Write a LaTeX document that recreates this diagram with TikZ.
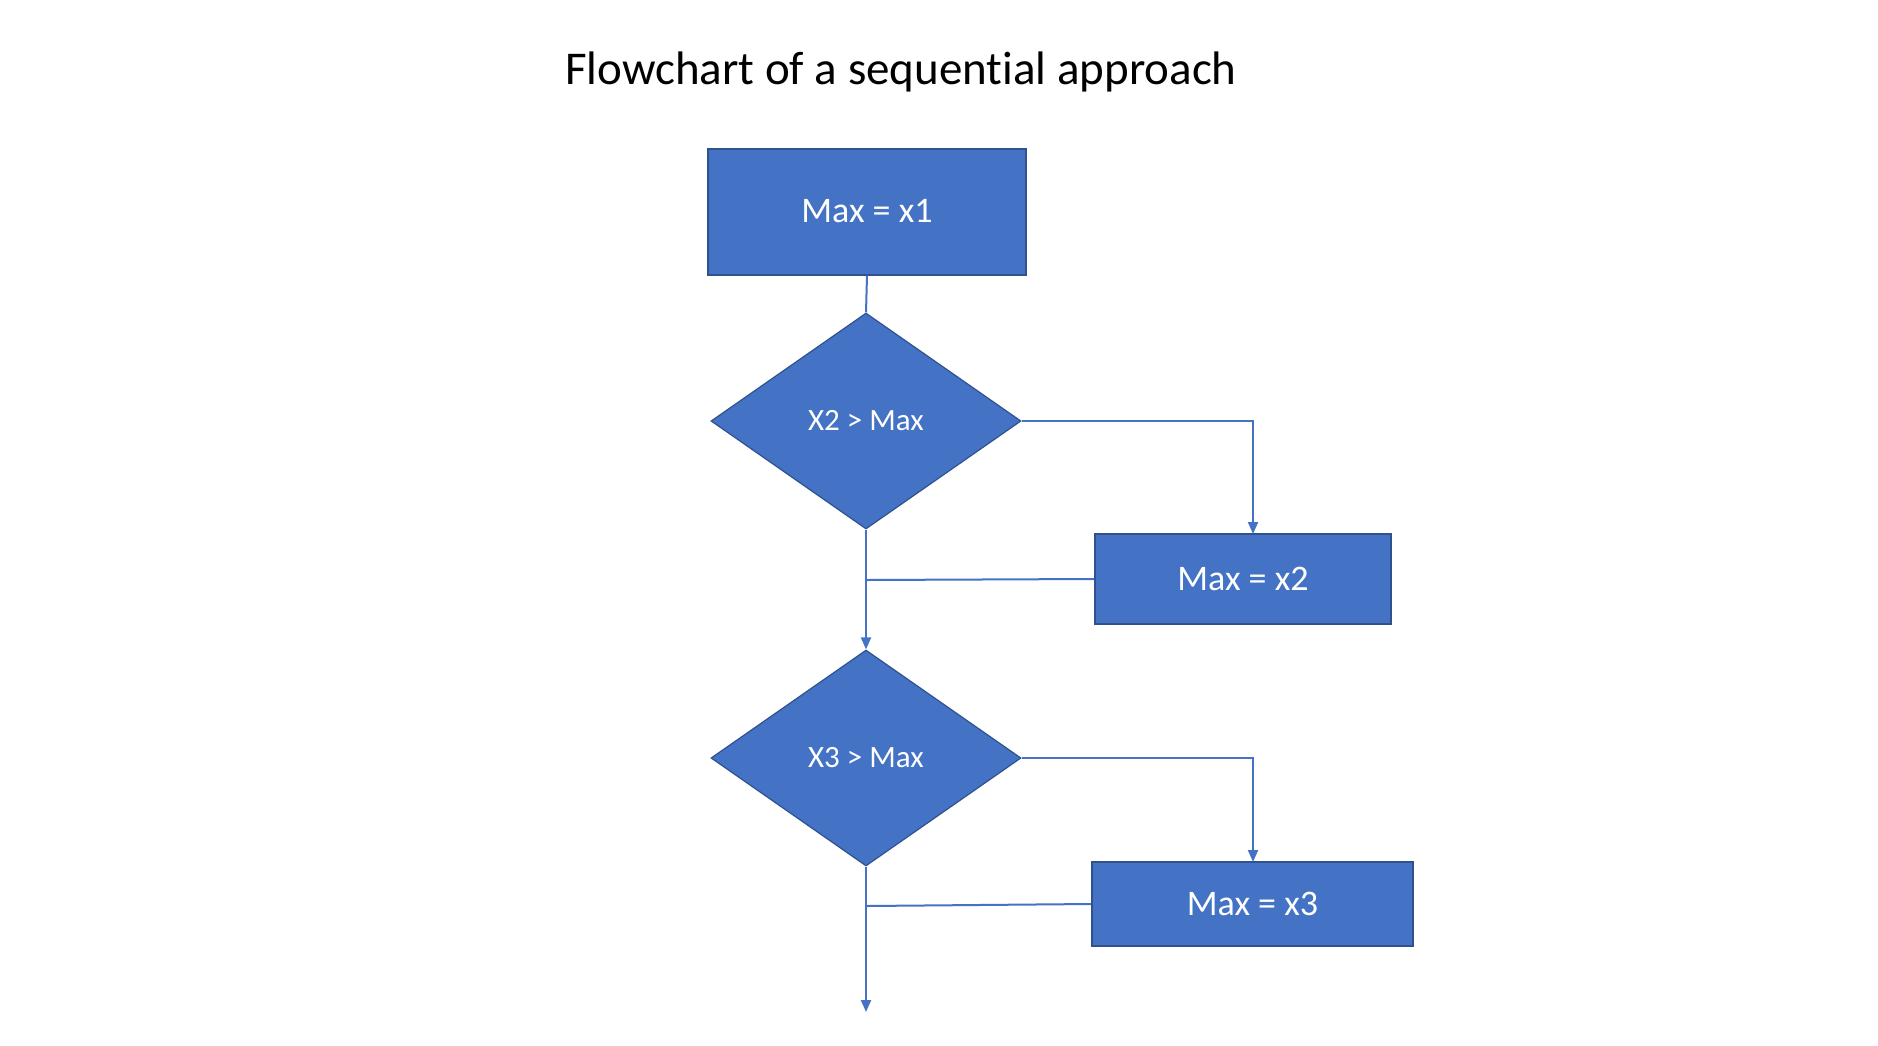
\documentclass[tikz,border=0pt]{standalone}
\usepackage{fontspec}
\setmainfont{Carlito}[Ligatures=NoCommon]
\usetikzlibrary{shapes.geometric,arrows.meta}
\definecolor{boxfill}{HTML}{4472C4}
\definecolor{boxline}{HTML}{2F528F}
\definecolor{conn}{HTML}{4472C4}
\tikzset{
  procbox/.style={rectangle,draw=boxline,fill=boxfill,line width=2pt,text=white,font=\fontsize{36}{40}\selectfont,inner sep=0pt},
  decbox/.style={diamond,draw=boxline,fill=boxfill,line width=1.2pt,text=white,font=\fontsize{31}{36}\selectfont,inner sep=0pt,minimum width=310pt,minimum height=216pt},
  conline/.style={draw=conn,line width=2pt},
  arr/.style={conline,-{Triangle[length=12pt,width=10pt]}}
}
\begin{document}
\begin{tikzpicture}[x=1pt,y=-1pt]
\useasboundingbox[fill=white] (0,0) rectangle (1878,1046);
\node[font=\fontsize{47}{52}\selectfont] (title) at (901,72) {Flowchart of a sequential approach};
\node[procbox,minimum width=318pt,minimum height=126pt] (b1) at (867,211.5) {Max = x1};
\node[decbox] (d1) at (866,421) {X2 > Max};
\node[procbox,minimum width=296pt,minimum height=90pt] (b2) at (1243,579) {Max = x2};
\node[decbox] (d2) at (866,758) {X3 > Max};
\node[procbox,minimum width=321pt,minimum height=84pt] (b3) at (1252.5,904) {Max = x3};
\coordinate (c1) at (1253,534);
\coordinate (c2) at (1253,862);
\coordinate (j1) at (867,580);
\coordinate (j2) at (867,906);
\coordinate (end) at (866,1012);
\draw[conline] (b1.south) -- (d1.north);
\draw[arr] (d1.east) -| (c1);
\draw[arr] (d1.south) -- (d2.north);
\draw[conline] (b2.west) -- (j1);
\draw[arr] (d2.east) -| (c2);
\draw[conline] (b3.west) -- (j2);
\draw[arr] (d2.south) -- (end);
\end{tikzpicture}
\end{document}
